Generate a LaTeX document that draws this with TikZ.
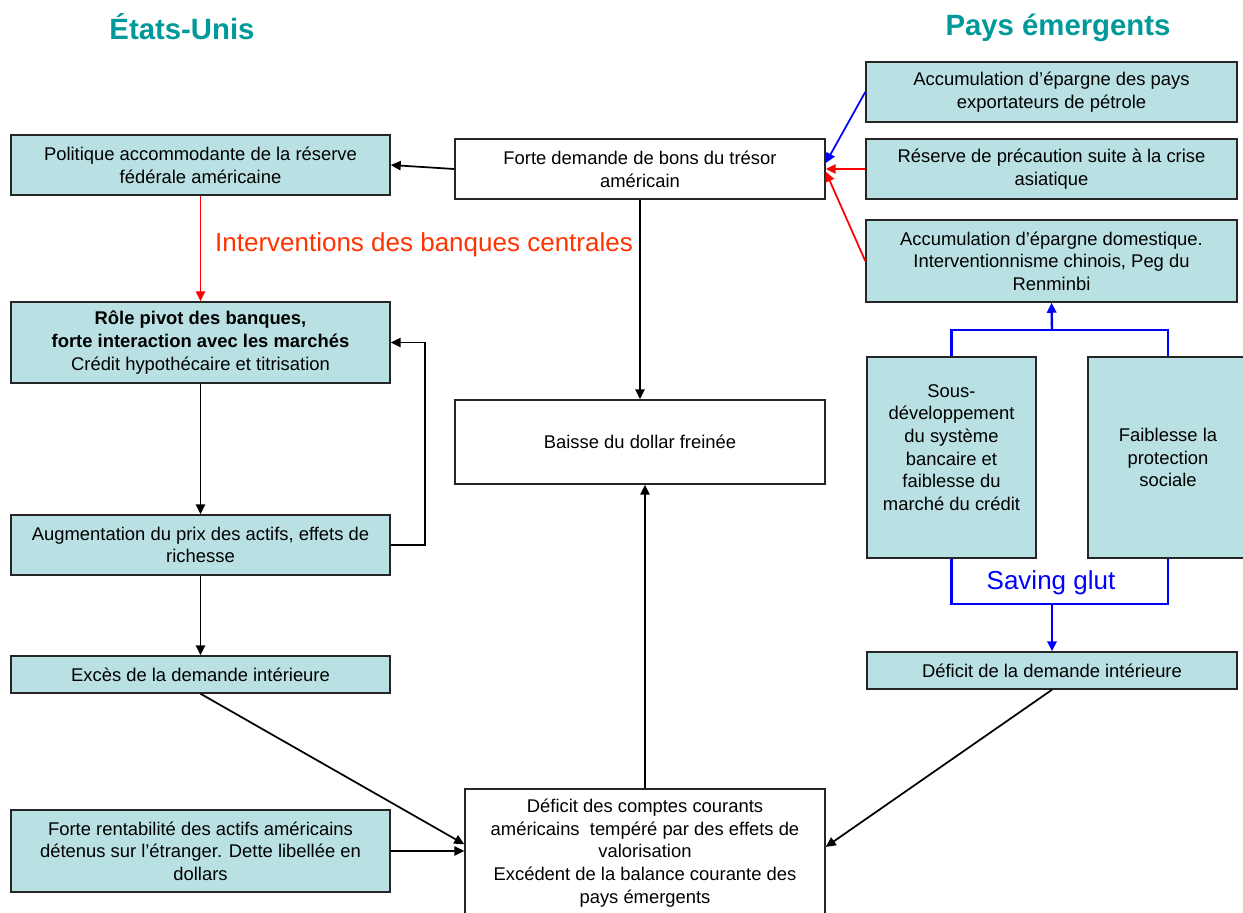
\documentclass[tikz,border=0pt]{standalone}
\usepackage{fontspec}
\setmainfont{Liberation Sans}
\usetikzlibrary{arrows.meta,calc}
\definecolor{boxfill}{RGB}{185,224,226}
\definecolor{titleteal}{RGB}{0,153,153}
\definecolor{redtxt}{RGB}{255,51,0}
\begin{document}
\begin{tikzpicture}[x=0.75pt,y=-0.75pt,
  box/.style={draw=black!85,line width=1.1pt,align=center,inner sep=2pt,
    font=\fontsize{13.8}{17}\selectfont},
  tbox/.style={box,fill=boxfill},
  wbox/.style={box,fill=white},
  arr/.style={line width=1.3pt,-{Triangle[length=7.5pt,width=7pt]}},
  redarr/.style={arr,draw=red},
  bluearr/.style={arr,draw=blue},
  blueline/.style={line width=1.8pt,draw=blue},
  bluearrw/.style={blueline,-{Triangle[length=7.5pt,width=7pt]}},
  title/.style={font=\fontsize{22}{26}\selectfont\bfseries,text=titleteal},
  bigred/.style={font=\fontsize{19.5}{23}\selectfont,text=redtxt},
  bigblue/.style={font=\fontsize{19.5}{23}\selectfont,text=blue}]
\useasboundingbox (0,0) rectangle (1243,913);
\clip (0,0) rectangle (1243,913);
\fill[white] (0,0) rectangle (1243,913);

% titles
\node[title] (tUS) at (182,27) {États-Unis};
\node[title] (tPE) at (1058,28) {Pays émergents};

% left column
\node[tbox,minimum width=284.25pt,minimum height=45pt] (B1) at (200.5,165)
  {Politique accommodante de la réserve\\fédérale américaine};
\node[tbox,minimum width=284.25pt,minimum height=60.75pt] (B2) at (200.5,342.5)
  {\textbf{Rôle pivot des banques,}\\\textbf{forte interaction avec les marchés}\\Crédit hypothécaire et titrisation};
\node[tbox,minimum width=284.25pt,minimum height=45pt] (B3) at (200.5,545)
  {Augmentation du prix des actifs, effets de\\richesse};
\node[tbox,minimum width=284.25pt,minimum height=27.75pt] (B4) at (200.5,674.5)
  {Excès de la demande intérieure};
\node[tbox,minimum width=284.25pt,minimum height=61.5pt] (B5) at (200.5,851)
  {Forte rentabilité des actifs américains\\détenus sur l’étranger. Dette libellée en\\dollars};

% middle column
\node[wbox,minimum width=277.5pt,minimum height=45pt] (T) at (640,169)
  {Forte demande de bons du trésor\\américain};
\node[wbox,minimum width=277.5pt,minimum height=63pt] (C) at (640,442)
  {Baisse du dollar freinée};
\node[wbox,minimum width=270pt,minimum height=96pt] (D) at (645,853)
  {Déficit des comptes courants\\américains~ tempéré par des effets de\\valorisation\\Excédent de la balance courante des\\pays émergents};

% right column
\node[tbox,minimum width=278.25pt,minimum height=45pt] (R1) at (1051.5,92)
  {Accumulation d’épargne des pays\\exportateurs de pétrole};
\node[tbox,minimum width=278.25pt,minimum height=45pt] (R2) at (1051.5,169)
  {Réserve de précaution suite à la crise\\asiatique};
\node[tbox,minimum width=278.25pt,minimum height=61.5pt] (R3) at (1051.5,261)
  {Accumulation d’épargne domestique.\\Interventionnisme chinois, Peg du\\Renminbi};
\node[tbox,minimum width=126.75pt,minimum height=150.75pt] (S1) at (951.5,457.5)
  {Sous-\\développement\\du système\\bancaire et\\faiblesse du\\marché du crédit\\[-2pt]};
\node[tbox,minimum width=120pt,minimum height=150.75pt] (S2) at (1168,457.5)
  {Faiblesse la\\protection\\sociale};
\node[tbox,minimum width=277.5pt,minimum height=27.75pt] (R4) at (1052,670.5)
  {Déficit de la demande intérieure};

% labels
\node[bigred] (lInt) at (424,245) {Interventions des banques centrales};
\node[bigblue] (lSav) at (1051,583) {Saving glut};

% connectors left
\draw[arr] (T.west) -- (B1.east);
\draw[redarr] (B1.south) -- (B2.north);
\draw[arr] (B2.south) -- (B3.north);
\draw[arr] (B3.east) -- ++(34,0) |- (B2.east);
\draw[arr] (B3.south) -- (B4.north);
\draw[arr] (B4.south) -- ([yshift=-42pt]D.north west);
\draw[arr] (B5.east) -- ([yshift=-47pt]D.north west);

% middle
\draw[arr] (T.south) -- (C.north);
\draw[arr] (D.north) -- (D.north |- C.south);
\draw[arr] (R4.south) -- ([yshift=-44pt]D.north east);

% right to T
\draw[bluearr] (R1.west) -- ([yshift=4.5pt]T.east);
\draw[redarr] (R2.west) -- (T.east);
\draw[redarr] (R3.west) -- ([yshift=-2pt]T.east);

% saving glut tree
\coordinate (jt) at (1052,330);
\coordinate (jb) at (1052,604);
\draw[blueline] (S1.north) |- (jt) -| (S2.north);
\draw[bluearrw] (jt) -- (R3.south);
\draw[blueline] (S1.south) |- (jb) -| (S2.south);
\draw[bluearrw] (jb) -- (R4.north);
\end{tikzpicture}
\end{document}
